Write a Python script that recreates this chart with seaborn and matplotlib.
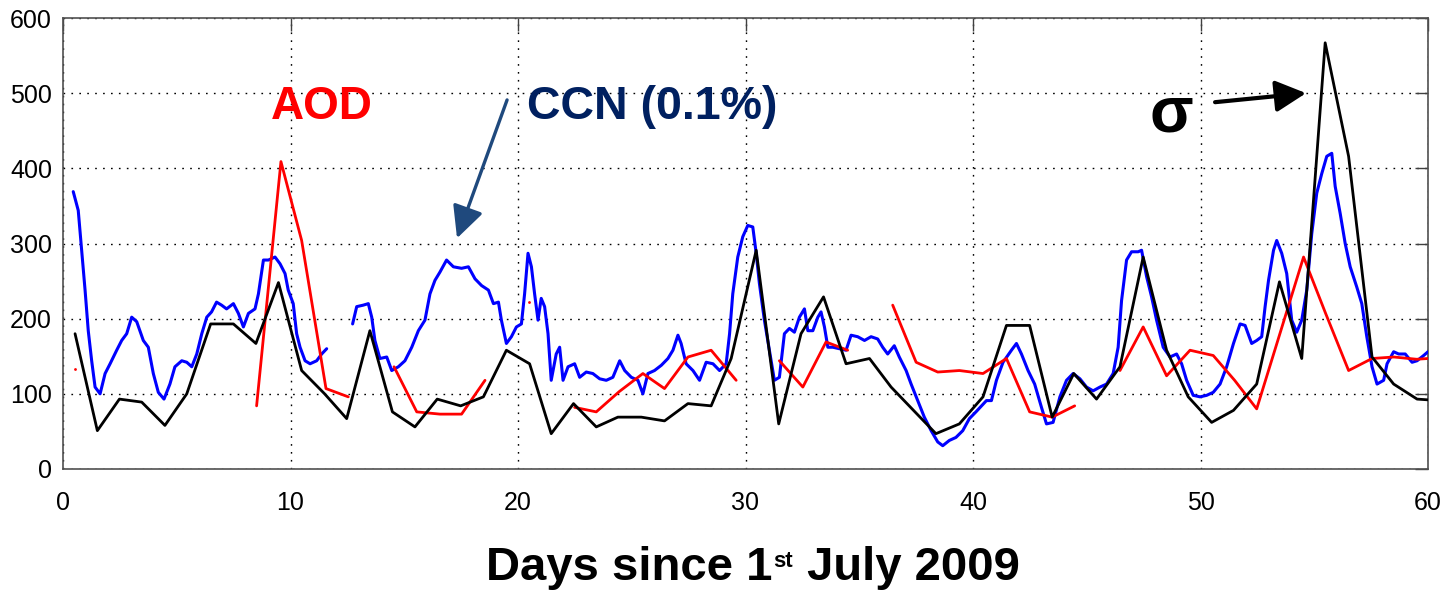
import numpy as np
import pandas as pd
import matplotlib
matplotlib.use("Agg")
import matplotlib.pyplot as plt
import seaborn as sns

# ---------------- data ----------------
sigma_day = [0.53, 1.51, 2.48, 3.46, 4.48, 5.44, 6.49, 7.49, 8.48, 9.47, 10.49, 11.5,
             12.47, 13.49, 14.48, 15.47, 16.45, 17.48, 18.48, 19.49, 20.51, 21.46,
             22.44, 23.44, 24.39, 25.42, 26.44, 27.47, 28.49, 29.37, 30.47, 31.46,
             32.44, 33.43, 34.42, 35.45, 36.4, 38.37, 39.4, 40.44, 41.47, 42.49,
             43.48, 44.43, 45.43, 46.46, 47.48, 48.51, 49.46, 50.49, 51.45, 52.47,
             53.47, 54.45, 55.48, 56.51, 57.54, 58.49, 59.52, 60.0]
sigma_val = [180, 51, 93, 89, 58, 100, 193, 193, 167, 248, 131, 100,
             67, 184, 76, 56, 93, 84, 96, 158, 140, 47,
             87, 56, 69, 69, 64, 87, 84, 147, 291, 60,
             180, 229, 140, 147, 109, 47, 60, 96, 191, 191,
             69, 127, 93, 136, 282, 158, 96, 62, 78, 113,
             249, 147, 567, 416, 149, 113, 93, 92]

aod_day = [8.51, 9.58, 10.49, 11.56, 12.54,
           14.55, 15.55, 16.57, 17.52, 18.55,
           22.49, 23.44, 24.45, 25.49, 26.44, 27.47, 28.49, 29.59,
           31.49, 32.52, 33.54, 34.49,
           36.47, 37.5, 38.45, 39.4, 40.44, 41.47, 42.49, 43.48, 44.47,
           46.46, 47.48, 48.51, 49.54, 50.56, 51.5, 52.47, 53.5, 54.53, 55.5,
           56.51, 57.54, 58.5, 59.5, 60.0]
aod_val = [84, 409, 304, 107, 96,
           136, 76, 73, 73, 118,
           82, 76, 103, 127, 107, 149, 158, 118,
           144, 109, 169, 158,
           218, 142, 129, 131, 127, 147, 76, 69, 84,
           131, 189, 124, 158, 151, 118, 80, 181, 282, 207,
           131, 147, 149, 146, 147]
aod_seg = [0] * 5 + [1] * 5 + [2] * 8 + [3] * 4 + [4] * 9 + [5] * 15
aod_dot_day = [0.53, 20.5]
aod_dot_val = [133, 222]

ccn_day = [0.45, 0.67, 0.82, 0.97, 1.11, 1.26, 1.41, 1.63, 1.85, 2.07, 2.36, 2.58, 2.80,
           3.02, 3.24, 3.53, 3.75, 3.97, 4.19, 4.44, 4.70, 4.92, 5.22, 5.44, 5.66,
           5.88, 6.10, 6.32, 6.53, 6.75, 6.97, 7.19, 7.49, 7.71, 7.93, 8.15, 8.44,
           8.59, 8.81, 9.03, 9.32, 9.54, 9.76, 9.90, 10.12, 10.27, 10.42, 10.64,
           10.86, 11.15, 11.37, 11.59,
           12.73, 12.91, 13.20, 13.42, 13.57, 13.71, 13.93, 14.23, 14.45, 14.74,
           15.03, 15.33, 15.62, 15.91, 16.13, 16.35, 16.57, 16.86, 17.16, 17.52,
           17.82, 18.11, 18.40, 18.70, 18.92, 19.14, 19.27, 19.49, 19.71, 19.93,
           20.15, 20.29, 20.44, 20.59, 20.73, 20.88, 21.02, 21.17, 21.32, 21.46,
           21.68, 21.83, 21.98, 22.20, 22.49, 22.71, 23.00, 23.29, 23.59, 23.88,
           24.17, 24.47, 24.69, 24.98, 25.27, 25.49, 25.71, 26.00, 26.30, 26.59,
           26.81, 27.03, 27.17, 27.39, 27.69, 27.98, 28.27, 28.57, 28.86, 29.15,
           29.30, 29.44, 29.66, 29.88, 30.10, 30.32, 30.47, 30.61, 30.83, 31.05,
           31.27, 31.49, 31.71, 31.93, 32.15, 32.37, 32.59, 32.74, 32.96, 33.18,
           33.32, 33.47, 33.62, 33.84, 34.13, 34.42, 34.64, 34.93, 35.23, 35.52,
           35.81, 36.03, 36.25, 36.54, 36.76, 37.06, 37.28, 37.57, 37.86, 38.16,
           38.45, 38.67, 38.96, 39.25, 39.55, 39.84, 40.13, 40.59, 40.81, 41.03,
           41.32, 41.69, 41.91, 42.13, 42.42, 42.71, 43.01, 43.23, 43.52, 43.82,
           44.11, 44.40, 44.70, 44.99, 45.28, 45.58, 45.87, 46.16, 46.38, 46.53,
           46.75, 46.97, 47.26, 47.41, 47.63, 47.85, 48.07, 48.36, 48.66, 48.95,
           49.17, 49.39, 49.68, 49.98, 50.27, 50.56, 50.86, 51.15, 51.45, 51.74,
           51.96, 52.25, 52.47, 52.69, 52.84, 52.99, 53.21, 53.35, 53.57, 53.79,
           54.01, 54.23, 54.45, 54.67, 54.89, 55.11, 55.33, 55.55, 55.77, 55.92,
           56.14, 56.36, 56.58, 56.87, 57.09, 57.31, 57.54, 57.76, 58.05, 58.20,
           58.49, 58.71, 59.00, 59.30, 59.52, 59.81, 60.0]
ccn_val = [369, 344, 291, 238, 184, 144, 109, 100, 127, 140, 158, 171, 180,
           202, 196, 171, 162, 127, 102, 93, 113, 136, 144, 142, 136,
           153, 180, 202, 209, 222, 218, 213, 220, 207, 189, 207, 213,
           233, 278, 278, 282, 273, 260, 238, 220, 180, 162, 144,
           140, 144, 153, 160,
           193, 216, 218, 220, 202, 171, 147, 149, 131, 136,
           144, 162, 184, 198, 233, 251, 262, 278, 269, 267,
           269, 253, 244, 238, 220, 222, 198, 167, 176, 189,
           193, 233, 287, 269, 233, 198, 227, 216, 180, 118,
           153, 162, 118, 136, 140, 122, 129, 127, 120, 118,
           122, 144, 131, 122, 118, 100, 127, 131, 138, 147,
           158, 178, 167, 140, 131, 118, 142, 140, 131, 140,
           180, 233, 282, 309, 324, 322, 287, 247, 198, 158,
           118, 122, 180, 187, 182, 202, 213, 184, 184, 202,
           209, 189, 162, 162, 160, 158, 178, 176, 171, 176,
           173, 162, 153, 164, 149, 131, 113, 91, 69, 51,
           36, 31, 38, 42, 51, 67, 76, 91, 91, 118,
           142, 158, 167, 153, 131, 113, 82, 60, 62, 96,
           118, 127, 120, 109, 104, 109, 113, 127, 162, 224,
           278, 289, 289, 291, 256, 229, 198, 162, 149, 153,
           140, 118, 98, 96, 98, 102, 113, 136, 167, 193,
           191, 167, 171, 176, 216, 251, 291, 304, 287, 260,
           198, 182, 198, 238, 313, 367, 393, 416, 420, 376,
           340, 300, 269, 242, 220, 176, 136, 113, 118, 140,
           156, 153, 153, 142, 144, 151, 156]
ccn_seg = [0] * 52 + [1] * (len(ccn_day) - 52)

x_ticks = [0, 10, 20, 30, 40, 50, 60]
y_ticks = [0, 100, 200, 300, 400, 500, 600]

# ---------------- style ----------------
sns.set_style("white")
plt.rcParams["font.family"] = ["Liberation Sans", "DejaVu Sans"]
plt.rcParams["text.color"] = "black"

W, H = 1444, 593
fig = plt.figure(figsize=(W / 100, H / 100), dpi=100)
ax = fig.add_axes([63 / W, (H - 469) / H, (1428 - 63) / W, (469 - 18) / H])

ccn_df = pd.DataFrame({"day": ccn_day, "val": ccn_val, "seg": ccn_seg})
aod_df = pd.DataFrame({"day": aod_day, "val": aod_val, "seg": aod_seg})
sig_df = pd.DataFrame({"day": sigma_day, "val": sigma_val})

sns.lineplot(data=ccn_df, x="day", y="val", units="seg", estimator=None, sort=False,
             color="#0000ff", lw=2.2, ax=ax, zorder=3)
sns.lineplot(data=aod_df, x="day", y="val", units="seg", estimator=None, sort=False,
             color="#ff0000", lw=2.0, ax=ax, zorder=4)
sns.scatterplot(x=aod_dot_day, y=aod_dot_val, color="#ff0000", s=4, linewidth=0,
                ax=ax, zorder=4)
sns.lineplot(data=sig_df, x="day", y="val", estimator=None, sort=False,
             color="black", lw=2.0, ax=ax, zorder=5)

ax.set_xlim(0, 60)
ax.set_ylim(0, 600)
ax.set_xticks(x_ticks)
ax.set_yticks(y_ticks)
ax.set_xticklabels([str(t) for t in x_ticks])
ax.set_yticklabels([str(t) for t in y_ticks])
ax.set_xlabel("")
ax.set_ylabel("")
ax.grid(True, color="black", linestyle=(0, (1.2, 4.5)), lw=1.0, zorder=1)
ax.tick_params(axis="both", which="major", direction="in", length=9.4, width=1.0,
               color="#404040", top=True, right=True, labelsize=18, labelcolor="black")
ax.tick_params(axis="x", pad=16)
ax.tick_params(axis="y", pad=8)
for s in ax.spines.values():
    s.set_color("#505050")
    s.set_linewidth(1.2)
    s.set_visible(True)

# ---------------- annotations ----------------
ax.text(9.13, 465, "AOD", color="#ff0000", fontsize=33, fontweight="bold",
        ha="left", va="baseline", zorder=6)
ax.text(20.38, 465, "CCN (0.1%)", color="#002060", fontsize=33.5, fontweight="bold",
        ha="left", va="baseline", zorder=6)
ax.annotate("", xy=(17.32, 307), xytext=(19.52, 491),
            arrowprops=dict(arrowstyle="-|>,head_length=0.65,head_width=0.32",
                            mutation_scale=30, color="#1f497d", lw=2.4,
                            shrinkA=0, shrinkB=0), zorder=6)
ax.text(47.78, 449, "σ", color="black", fontsize=46, fontweight="bold",
        ha="left", va="baseline", zorder=6)
ax.annotate("", xy=(54.64, 500), xytext=(50.64, 488),
            arrowprops=dict(arrowstyle="-|>,head_length=0.62,head_width=0.32",
                            mutation_scale=30, color="black", lw=3.0,
                            shrinkA=0, shrinkB=0), zorder=6)

# ---------------- x label with superscript ----------------
renderer = fig.canvas.get_renderer()
base_y = (H - 580) / H
t1 = fig.text(486 / W, base_y, "Days since 1", fontsize=34, fontweight="bold",
              color="black", ha="left", va="baseline")
bb1 = t1.get_window_extent(renderer)
t2 = fig.text((bb1.x1 + 1) / W, (H - 567) / H, "st", fontsize=16, fontweight="bold",
              color="black", ha="left", va="baseline")
bb2 = t2.get_window_extent(renderer)
fig.text((bb2.x1 + 1) / W, base_y, " July 2009", fontsize=34, fontweight="bold",
         color="black", ha="left", va="baseline")

fig.savefig("out.png", dpi=100)
